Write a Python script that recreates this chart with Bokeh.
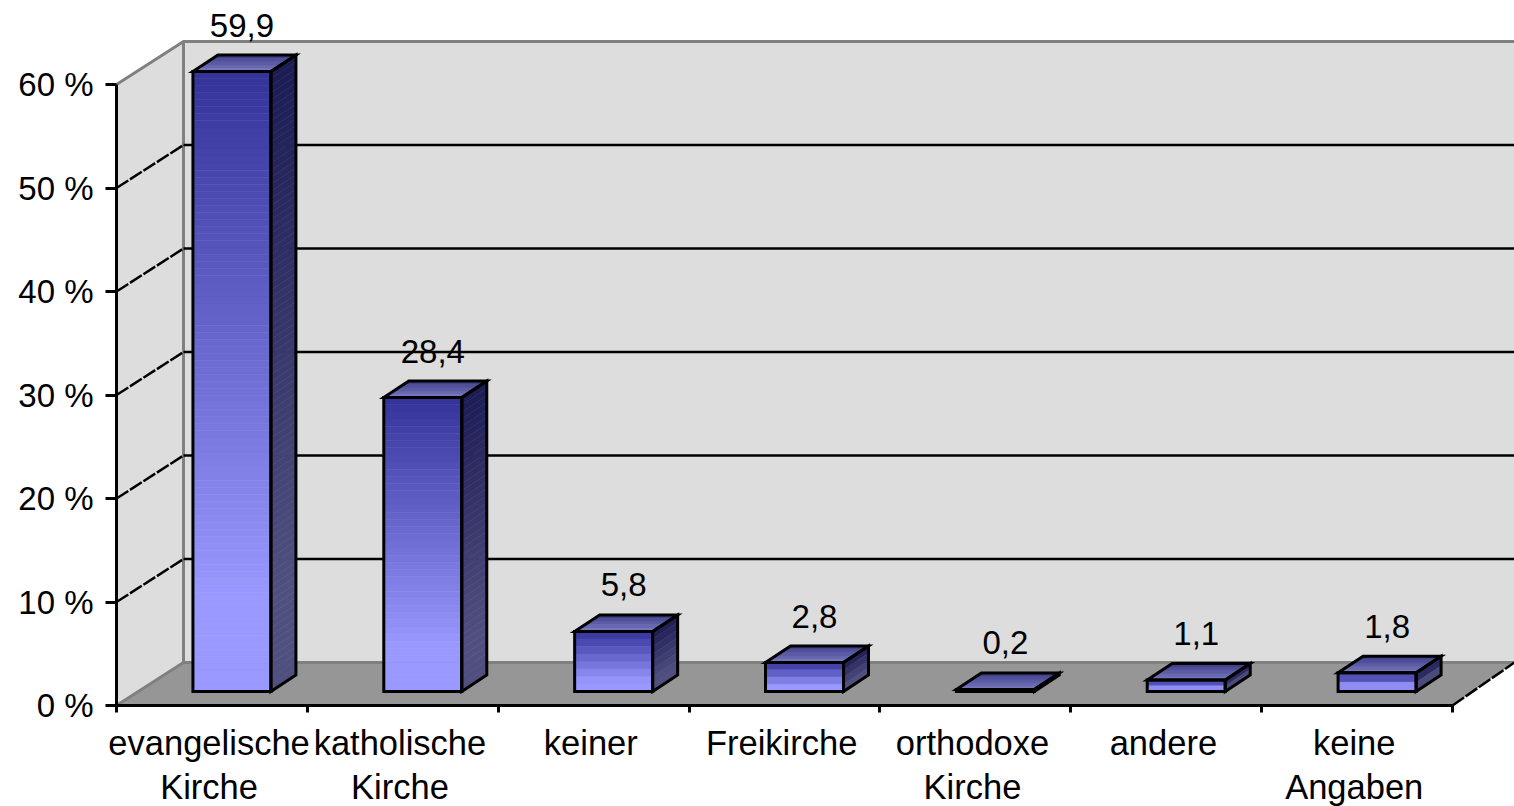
from bokeh.plotting import figure
from bokeh.models import Range1d, FixedTicker, ColumnDataSource
from bokeh.core.properties import value as fixed
from bokeh.embed import file_html
from bokeh.resources import INLINE

categories = ["evangelische\nKirche", "katholische\nKirche", "keiner", "Freikirche",
              "orthodoxe\nKirche", "andere", "keine\nAngaben"]
values = [59.9, 28.4, 5.8, 2.8, 0.2, 1.1, 1.8]
value_labels = ["59,9", "28,4", "5,8", "2,8", "0,2", "1,1", "1,8"]
y_ticks = [0, 10, 20, 30, 40, 50, 60]

FONT = "Liberation Sans"
FS = "33px"

# scale of the picture: pixels per category and per percentage point
PX = 190.86
PY = 10.35
X0_PX, Y0_PX = 116, 705
W, H = 1514, 806
ORIGIN = 0


def dx(px):
    return px / PX


def dy(px):
    return px / PY


p = figure(width=W, height=H, output_backend="svg", toolbar_location=None,
           x_range=Range1d((ORIGIN - X0_PX) / PX, (ORIGIN + W - X0_PX) / PX),
           y_range=Range1d((Y0_PX - ORIGIN - H) / PY, (Y0_PX - ORIGIN) / PY),
           min_border=0, outline_line_color=None, background_fill_color="white",
           border_fill_color="white")
p.grid.visible = False

n_cat = len(categories)
top = y_ticks[-1]
wall_dx, wall_dy = dx(67), dy(43)
x_end_wall = (1514 - X0_PX) / PX

# walls and floor
p.patch([wall_dx, x_end_wall, x_end_wall, wall_dx], [wall_dy, wall_dy, top + wall_dy, top + wall_dy],
        fill_color="#DDDDDD", line_color=None)
p.patch([0, wall_dx, wall_dx, 0], [0, wall_dy, top + wall_dy, top], fill_color="#DDDDDD", line_color=None)
p.patch([0, n_cat, x_end_wall, wall_dx], [0, 0, wall_dy, wall_dy], fill_color="#969696", line_color=None)

# gray edges
p.line([0, wall_dx, wall_dx, x_end_wall], [top, top + wall_dy, top + wall_dy, top + wall_dy],
       line_color="#808080", line_width=3)
p.line([wall_dx, wall_dx, x_end_wall], [top + wall_dy, wall_dy, wall_dy], line_color="#808080", line_width=3)
p.line([0, wall_dx], [0, wall_dy], line_color="#808080", line_width=3)
p.line([n_cat, x_end_wall], [0, wall_dy], line_color="black", line_width=2.5, line_dash="14 2")

# gridlines
for t in y_ticks[1:-1]:
    p.line([wall_dx, x_end_wall], [t + wall_dy, t + wall_dy], line_color="black", line_width=2.5)
    p.line([0, wall_dx], [t, t + wall_dy], line_color="black", line_width=2.5, line_dash="14 2")


def mix(c0, c1, f):
    f = max(0.0, min(1.0, f))
    return "#%02x%02x%02x" % tuple(round(a + (b - a) * f) for a, b in zip(c0, c1))


FRONT = ((0x33, 0x33, 0x99), (0x99, 0x99, 0xFF))
SIDE = ((0x1C, 0x1C, 0x55), (0x50, 0x50, 0x80))
TOPF = ((0x3C, 0x3C, 0x88), (0x7C, 0x7C, 0xC4))

half_w = dx(39)
bar_dx0, bar_dy0 = dx(20), dy(14)
depth_dx, depth_dy = dx(25), dy(16.5)

fq = dict(left=[], right=[], bottom=[], top=[], color=[])
sp = dict(xs=[], ys=[], color=[])
tp = dict(xs=[], ys=[], color=[])
outline = dict(xs=[], ys=[])
lab = dict(x=[], y=[], text=[])

for i, v in enumerate(values):
    cx = i + 0.5 + bar_dx0
    l, r = cx - half_w, cx + half_w
    b = bar_dy0
    t = b + v
    n = max(2, int(v * PY / 7))
    for k in range(n):
        y1 = t - v * k / n
        y0 = t - v * (k + 1) / n
        f = (k + 0.5) / n / 0.85
        fq["left"].append(l)
        fq["right"].append(r)
        fq["bottom"].append(y0)
        fq["top"].append(y1)
        fq["color"].append(mix(*FRONT, f))
        sp["xs"].append([r, r + depth_dx, r + depth_dx, r])
        sp["ys"].append([y0, y0 + depth_dy, y1 + depth_dy, y1])
        sp["color"].append(mix(*SIDE, f))
    m = 5
    for k in range(m):
        d0, d1 = k / m, (k + 1) / m
        tp["xs"].append([l + depth_dx * d0, r + depth_dx * d0, r + depth_dx * d1, l + depth_dx * d1])
        tp["ys"].append([t + depth_dy * d0, t + depth_dy * d0, t + depth_dy * d1, t + depth_dy * d1])
        tp["color"].append(mix(TOPF[1], TOPF[0], (k + 0.5) / m))
    outline["xs"] += [[l, r, r, l],
                      [r, r + depth_dx, r + depth_dx, r],
                      [l, r, r + depth_dx, l + depth_dx]]
    outline["ys"] += [[b, b, t, t],
                      [b, b + depth_dy, t + depth_dy, t],
                      [t, t, t + depth_dy, t + depth_dy]]
    lab["x"].append(cx + dx(10))
    lab["y"].append(t + depth_dy + dy(30))
    lab["text"].append(value_labels[i])

p.quad(source=ColumnDataSource(fq), left="left", right="right", bottom="bottom", top="top",
       fill_color="color", line_color="color", line_width=0.5)
p.patches(source=ColumnDataSource(sp), xs="xs", ys="ys", fill_color="color", line_color="color", line_width=0.5)
p.patches(source=ColumnDataSource(tp), xs="xs", ys="ys", fill_color="color", line_color="color", line_width=0.5)
p.patches(source=ColumnDataSource(outline), xs="xs", ys="ys", fill_alpha=0, line_color="black",
          line_width=3, line_join="miter")
p.text(source=ColumnDataSource(lab), x="x", y="y", text="text", text_font=fixed(FONT),
       text_font_size=fixed(FS), text_color="black", text_align="center", text_baseline="alphabetic")

# axes
ya = p.yaxis[0]
ya.fixed_location = 0
ya.ticker = FixedTicker(ticks=y_ticks)
ya.major_label_overrides = {t: f"{t} %" for t in y_ticks}
ya.major_label_text_font = FONT
ya.major_label_text_font_size = FS
ya.major_label_text_color = "black"
ya.major_label_standoff = 12
ya.major_tick_out = 11
ya.major_tick_in = 0
ya.minor_tick_line_color = None
ya.axis_line_color = "black"
ya.axis_line_width = 3
ya.major_tick_line_color = "black"
ya.major_tick_line_width = 3
ya.bounds = (0, top)

xa = p.xaxis[0]
xa.fixed_location = 0
centers = [i + 0.485 for i in range(n_cat)]
xa.ticker = FixedTicker(ticks=centers, minor_ticks=list(range(n_cat + 1)))
xa.major_label_overrides = dict(zip(centers, categories))
xa.major_label_text_font = FONT
xa.major_label_text_font_size = "34.5px"
xa.major_label_text_color = "black"
xa.major_label_text_line_height = 1.16
xa.major_label_standoff = 11
xa.major_tick_line_color = None
xa.major_tick_out = 0
xa.major_tick_in = 0
xa.minor_tick_line_color = "black"
xa.minor_tick_line_width = 3
xa.minor_tick_out = 7
xa.minor_tick_in = 0
xa.axis_line_color = "black"
xa.axis_line_width = 3
xa.bounds = (0, n_cat)

open("out.html", "w").write(file_html(p, INLINE))
